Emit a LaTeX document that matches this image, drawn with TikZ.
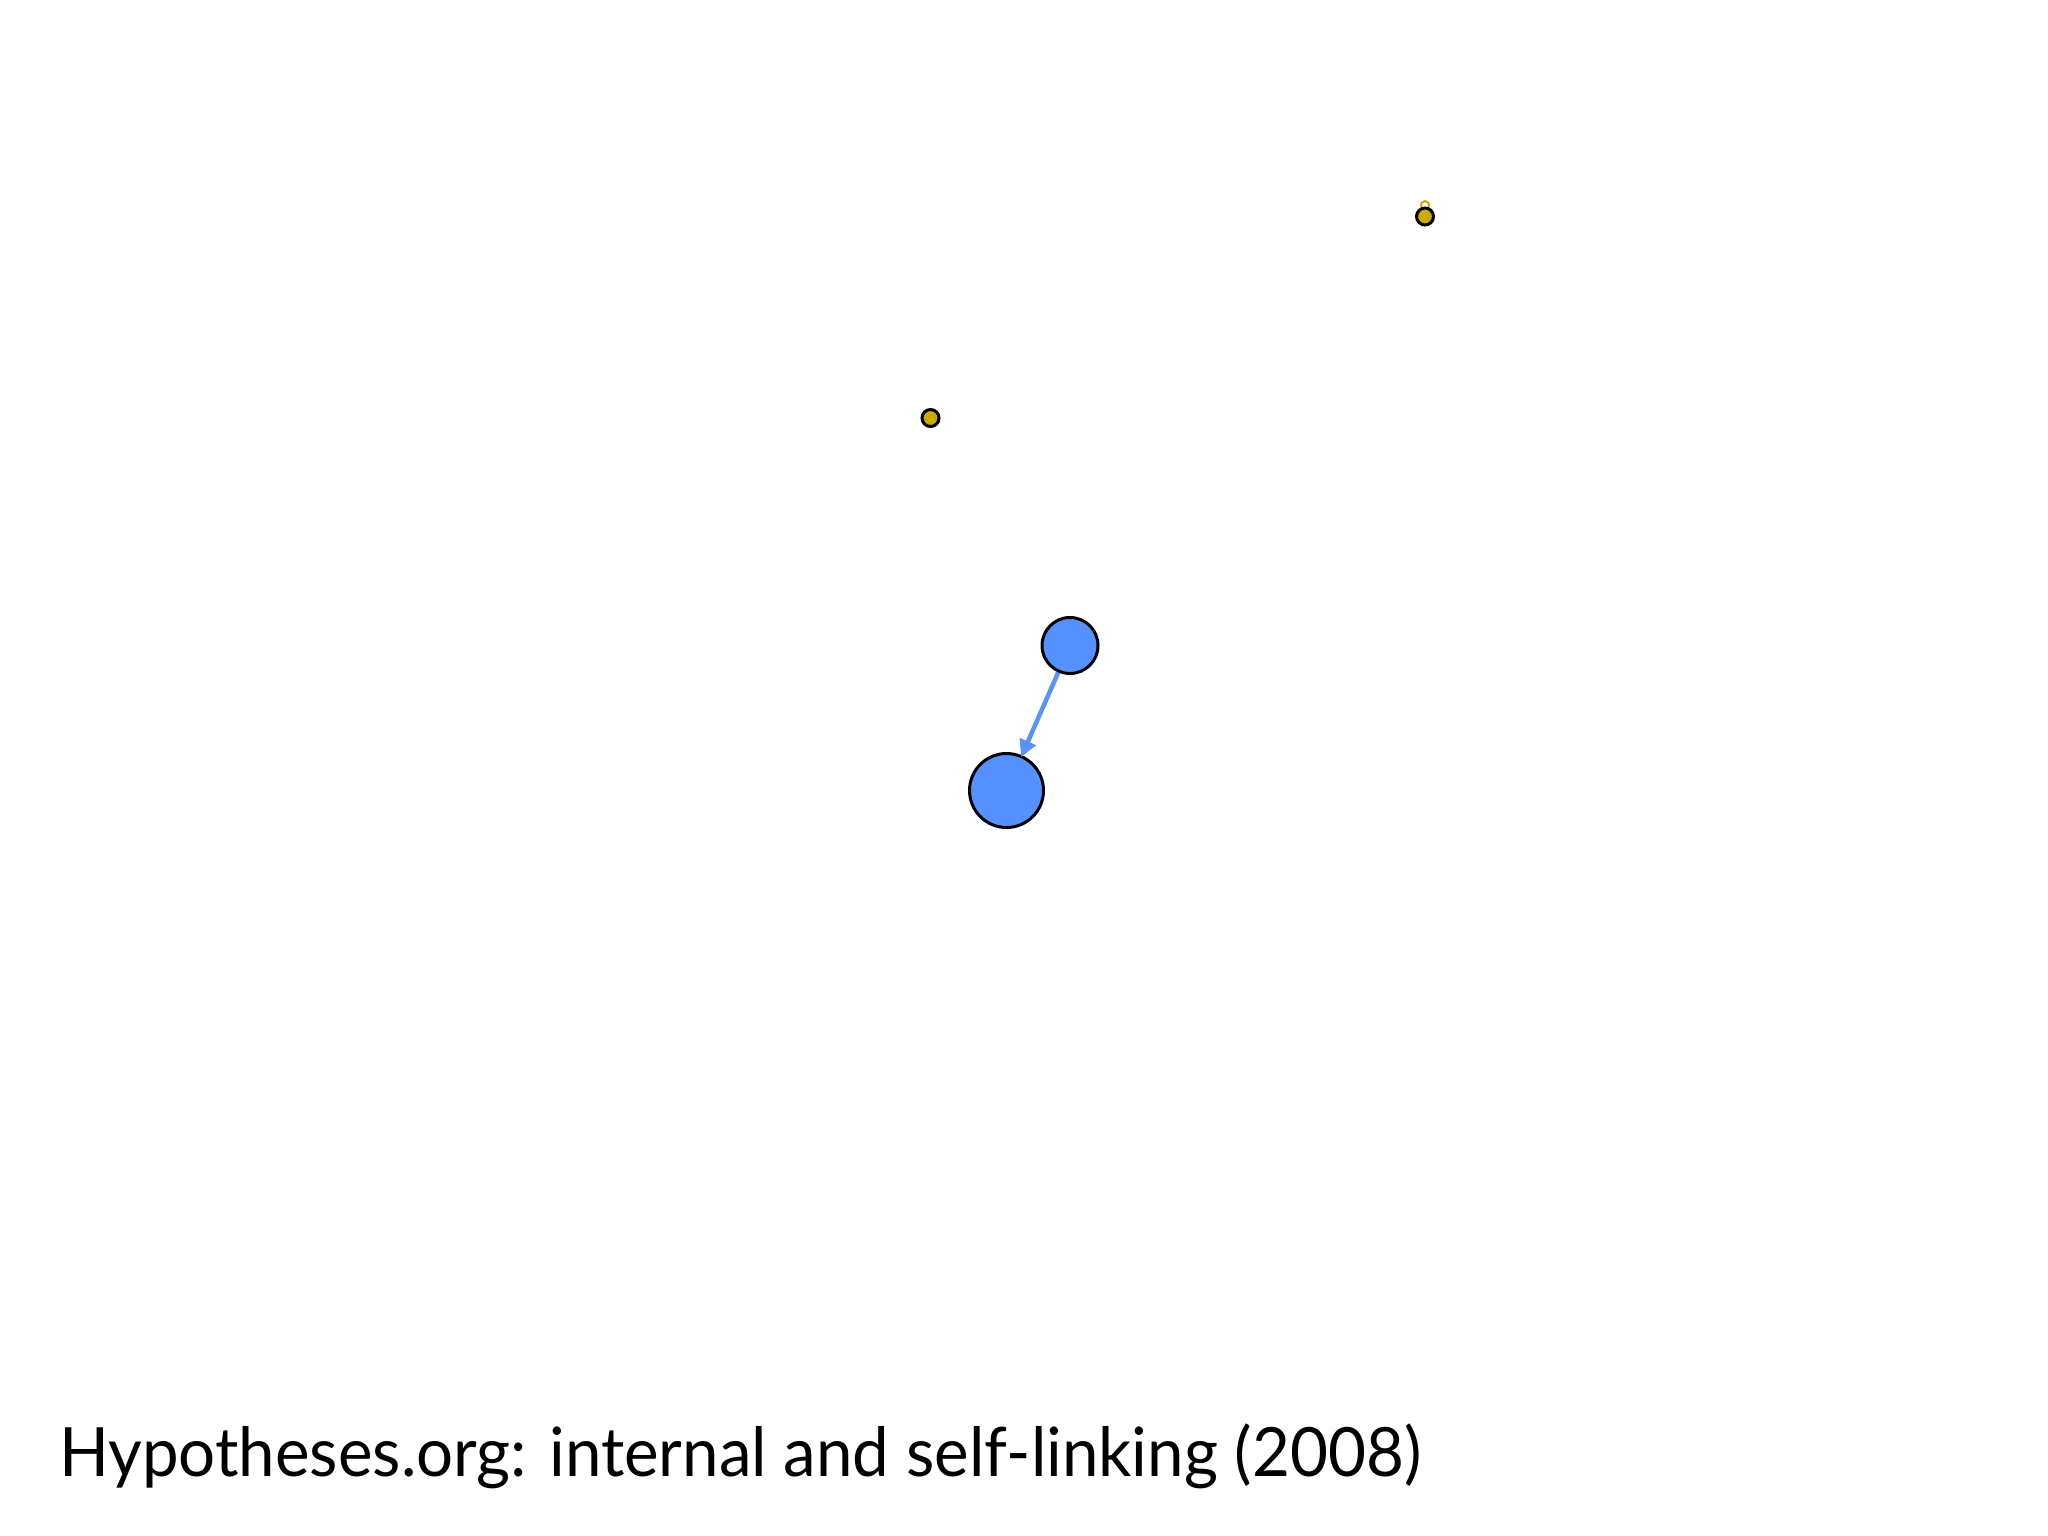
\documentclass[tikz,border=0pt]{standalone}
\usepackage{fontspec}
\setmainfont{Lato}
\usetikzlibrary{arrows.meta}
\definecolor{nodeblue}{RGB}{85,146,255}
\definecolor{edgeblue}{RGB}{88,148,245}
\definecolor{dotyellow}{RGB}{204,170,0}
\tikzset{
  bignode/.style={circle, draw=black, line width=3pt, fill=nodeblue, inner sep=0pt},
  dotnode/.style={circle, draw=black, line width=3pt, fill=dotyellow, inner sep=0pt, minimum size=17pt},
  linkedge/.style={draw=edgeblue, line width=4.5pt, -{Triangle[length=17pt,width=17pt]}, shorten >=-2pt},
  selfloop/.style={draw=dotyellow, line width=2pt}
}
\begin{document}
\begin{tikzpicture}[x=1pt,y=-1pt]
\useasboundingbox[fill=white] (0,0) rectangle (2048,1536);
\node[dotnode] (d1) at (1425,216.5) {};
\node[dotnode] (d2) at (930.5,418) {};
\node[bignode, minimum size=56pt] (a) at (1070,645.5) {};
\node[bignode, minimum size=74pt] (b) at (1006.5,790.5) {};
\draw[linkedge] (a) -- (b);
\draw[selfloop] (d1.110) .. controls +(-3,-8) and +(3,-8) .. (d1.70);
\node[anchor=base west, inner sep=0pt, xscale=0.962, font=\fontsize{68pt}{80pt}\selectfont] (title) at (59,1476) {Hypotheses.org: internal and self-linking (2008)};
\end{tikzpicture}
\end{document}
